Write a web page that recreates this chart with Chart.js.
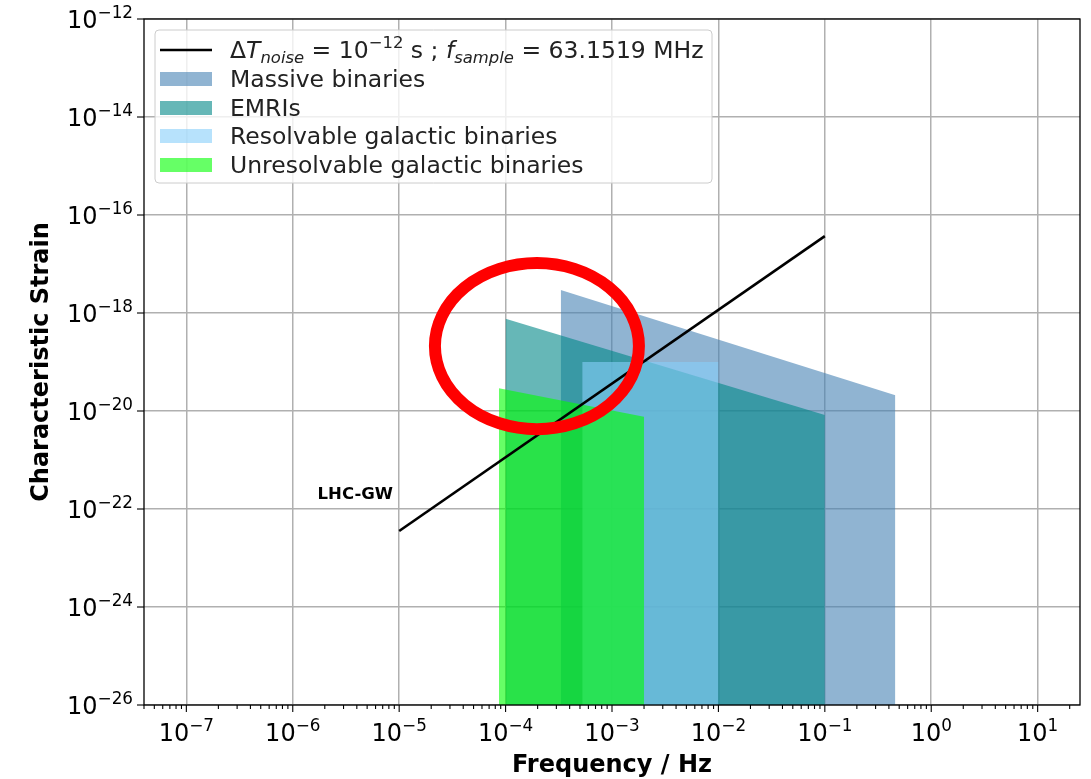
<!DOCTYPE html>
<html>
<head>
<meta charset="utf-8">
<script src="https://cdn.jsdelivr.net/npm/chart.js@4.4.0/dist/chart.umd.min.js"></script>
<style>
  html, body { margin: 0; padding: 0; background: #fff; }
</style>
</head>
<body>
<canvas id="chart" width="1091" height="779"></canvas>
<script>
// tick exponents (powers of ten)
const xTickExps = [-7, -6, -5, -4, -3, -2, -1, 0, 1];
const yTickExps = [-26, -24, -22, -20, -18, -16, -14, -12];

// detector noise curve
const noiseFreq = [1e-5, 1e-1];
const noiseStrain = [3.55e-23, 3.7e-17];

// source regions: top edge of each band (frequency, strain)
const massiveFreq = [3.3e-4, 0.46];
const massiveStrain = [2.95e-18, 2.1e-20];

const emriFreq = [1e-4, 1e-1];
const emriStrain = [7.6e-19, 8.3e-21];

const resolvFreq = [5.25e-4, 1e-2];
const resolvStrain = [1e-19, 1e-19];

const unresFreq = [8.65e-5, 2e-3];
const unresStrain = [2.9e-20, 7.6e-21];

// highlight ellipse bounds (log10 frequency, log10 strain)
const ringLogF = [-4.664, -2.747];
const ringLogH = [-16.98, -20.37];

const legendLabels = ['Massive binaries', 'EMRIs', 'Resolvable galactic binaries', 'Unresolvable galactic binaries'];

const SX = 1;
const FONT = '"DejaVu Sans"';
const GRID = '#b0b0b0';

function pts(fs, hs) {
  return fs.map((f, i) => ({ x: f, y: hs[i] }));
}

function band(label, fs, hs, color, order) {
  return {
    label: label,
    data: pts(fs, hs),
    backgroundColor: color,
    borderWidth: 0,
    borderColor: 'rgba(0,0,0,0)',
    pointRadius: 0,
    fill: 'start',
    order: order
  };
}

// x ticks 1..9 x 10^n, major at powers of ten
const xTicks = [];
for (let e = -8; e <= 1; e++) {
  for (let k = 1; k <= 9; k++) {
    const v = k * Math.pow(10, e);
    if (v >= 4e-8 && v <= 25) xTicks.push({ value: v, major: k === 1 });
  }
}

// draw a list of text runs, each {t, f, dy}
function drawRuns(ctx, runs, x, y, align) {
  let total = 0;
  const ws = runs.map(r => { ctx.font = r.f; const w = ctx.measureText(r.t).width * SX; total += w; return w; });
  let cx = x;
  if (align === 'center') cx = x - total / 2;
  if (align === 'right') cx = x - total;
  runs.forEach((r, i) => {
    ctx.font = r.f;
    ctx.save();
    ctx.translate(cx, y + (r.dy || 0));
    ctx.scale(SX, 1);
    ctx.textAlign = 'left';
    ctx.textBaseline = 'alphabetic';
    ctx.fillText(r.t, 0, 0);
    ctx.restore();
    cx += ws[i];
  });
  return total;
}

function powRuns(e, size) {
  const s = size * 0.7;
  return [
    { t: '10', f: size + 'px ' + FONT },
    { t: (e < 0 ? '\u2212' : '') + Math.abs(e), f: s + 'px ' + FONT, dy: -size * 0.42 }
  ];
}

const decor = {
  id: 'decor',
  afterDraw(chart) {
    const ctx = chart.ctx;
    const a = chart.chartArea;
    const xs = chart.scales.x, ys = chart.scales.y;
    ctx.save();
    ctx.fillStyle = '#000';
    ctx.strokeStyle = '#000';

    // spines
    ctx.lineWidth = 1.3;
    ctx.strokeRect(a.left, a.top, a.right - a.left, a.bottom - a.top);

    // x tick marks + labels
    ctx.lineWidth = 1.1;
    xs.ticks.forEach(t => {
      const px = xs.getPixelForValue(t.value);
      ctx.beginPath();
      ctx.moveTo(px, a.bottom);
      ctx.lineTo(px, a.bottom + (t.major ? 7 : 4));
      ctx.stroke();
    });
    xTickExps.forEach(e => {
      const px = xs.getPixelForValue(Math.pow(10, e));
      drawRuns(ctx, powRuns(e, 24), px, 741, 'center');
    });

    // y tick marks + labels
    yTickExps.forEach(e => {
      const py = ys.getPixelForValue(Math.pow(10, e));
      ctx.beginPath();
      ctx.moveTo(a.left, py);
      ctx.lineTo(a.left - 7, py);
      ctx.stroke();
      drawRuns(ctx, powRuns(e, 24), 133, py + 9, 'right');
    });

    // axis titles
    drawRuns(ctx, [{ t: 'Frequency / Hz', f: 'bold 24px ' + FONT }], (a.left + a.right) / 2, 772, 'center');
    ctx.save();
    ctx.translate(48, (a.top + a.bottom) / 2);
    ctx.rotate(-Math.PI / 2);
    ctx.font = 'bold 24px ' + FONT;
    ctx.textAlign = 'center';
    ctx.fillText('Characteristic Strain', 0, 0);
    ctx.restore();

    // curve label
    drawRuns(ctx, [{ t: 'LHC-GW', f: 'bold 16.5px ' + FONT }], 393, 499, 'right');

    // legend
    const lx = 155, ly = 30, lw = 557, lh = 153;
    ctx.beginPath();
    ctx.roundRect(lx, ly, lw, lh, 4);
    ctx.fillStyle = 'rgba(255,255,255,0.8)';
    ctx.fill();
    ctx.strokeStyle = '#cccccc';
    ctx.lineWidth = 1;
    ctx.stroke();

    const rows = [50, 79, 108, 136, 165];
    const F = 23.5;
    ctx.strokeStyle = '#000';
    ctx.lineWidth = 2.6;
    ctx.beginPath();
    ctx.moveTo(160, rows[0]);
    ctx.lineTo(212, rows[0]);
    ctx.stroke();
    ctx.fillStyle = '#222';
    const reg = F + 'px ' + FONT, it = 'italic ' + F + 'px ' + FONT;
    const sub = 'italic ' + (F * 0.7) + 'px ' + FONT, sup = (F * 0.7) + 'px ' + FONT;
    drawRuns(ctx, [
      { t: '\u0394', f: reg }, { t: 'T', f: it }, { t: 'noise', f: sub, dy: 4.5 },
      { t: ' = 10', f: reg }, { t: '\u221212', f: sup, dy: -10 },
      { t: ' s ; ', f: reg }, { t: 'f', f: it }, { t: 'sample', f: sub, dy: 4.5 },
      { t: ' = 63.1519 MHz', f: reg }
    ], 230, rows[0] + 8, 'left');

    const bands = [1, 2, 3, 4].map(i => chart.data.datasets[i]);
    bands.forEach((d, i) => {
      const cy = rows[i + 1];
      ctx.fillStyle = d.backgroundColor;
      ctx.fillRect(160, cy - 7, 52, 14);
      ctx.fillStyle = '#222';
      drawRuns(ctx, [{ t: legendLabels[i], f: reg }], 230, cy + 8, 'left');
    });

    // highlight ring
    const x0 = xs.getPixelForValue(Math.pow(10, ringLogF[0]));
    const x1 = xs.getPixelForValue(Math.pow(10, ringLogF[1]));
    const y0 = ys.getPixelForValue(Math.pow(10, ringLogH[0]));
    const y1 = ys.getPixelForValue(Math.pow(10, ringLogH[1]));
    ctx.beginPath();
    ctx.ellipse((x0 + x1) / 2, (y0 + y1) / 2, Math.abs(x1 - x0) / 2, Math.abs(y1 - y0) / 2, 0, 0, Math.PI * 2);
    ctx.strokeStyle = '#ff0000';
    ctx.lineWidth = 12;
    ctx.stroke();

    ctx.restore();
  }
};

new Chart(document.getElementById('chart'), {
  type: 'line',
  data: {
    datasets: [
      {
        label: 'noise',
        data: pts(noiseFreq, noiseStrain),
        borderColor: '#000',
        borderWidth: 2.6,
        pointRadius: 0,
        fill: false,
        order: 0
      },
      band(legendLabels[0], massiveFreq, massiveStrain, 'rgba(70,130,180,0.6)', 4),
      band(legendLabels[1], emriFreq, emriStrain, 'rgba(0,135,135,0.6)', 3),
      band(legendLabels[2], resolvFreq, resolvStrain, 'rgba(135,206,250,0.6)', 2),
      band(legendLabels[3], unresFreq, unresStrain, 'rgba(0,255,0,0.6)', 1)
    ]
  },
  options: {
    responsive: false,
    animation: false,
    layout: { padding: { left: 144, top: 19, right: 11, bottom: 74 } },
    plugins: { legend: { display: false }, tooltip: { enabled: false } },
    elements: { line: { tension: 0 } },
    scales: {
      x: {
        type: 'logarithmic',
        min: 4e-8,
        max: 25,
        afterBuildTicks: s => { s.ticks = xTicks.map(t => ({ value: t.value, major: t.major })); },
        ticks: { display: false, autoSkip: false },
        grid: {
          drawTicks: false,
          lineWidth: 1.5,
          color: c => (c.tick && c.tick.major) ? GRID : 'rgba(0,0,0,0)'
        },
        border: { display: false }
      },
      y: {
        type: 'logarithmic',
        min: 1e-26,
        max: 1e-12,
        afterBuildTicks: s => { s.ticks = yTickExps.map(e => ({ value: Math.pow(10, e), major: true })); },
        ticks: { display: false, autoSkip: false },
        grid: { drawTicks: false, lineWidth: 1.5, color: GRID },
        border: { display: false }
      }
    }
  },
  plugins: [decor]
});
</script>
</body>
</html>
